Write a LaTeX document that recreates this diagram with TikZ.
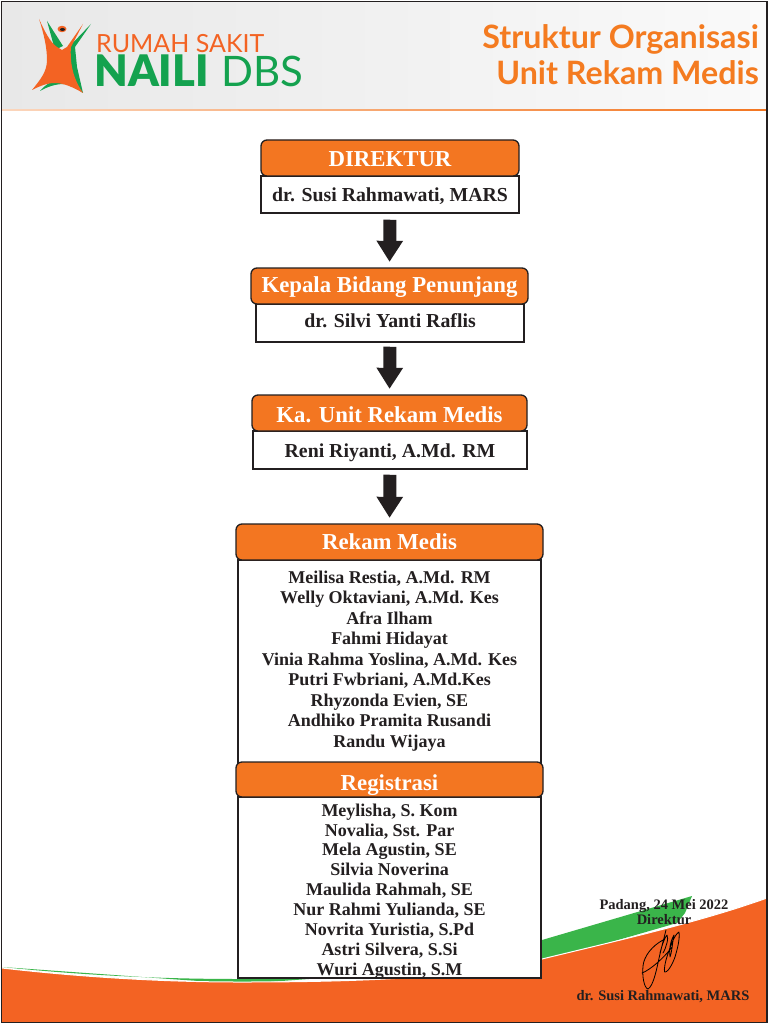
\documentclass[tikz,border=0pt]{standalone}
\usepackage{fontspec}
\setmainfont{Liberation Serif}
\newfontfamily\logofont{Lato}
\newfontfamily\logoblack{Lato Black}
\usetikzlibrary{arrows.meta,positioning}
\definecolor{hdr}{HTML}{F37621}
\definecolor{botor}{HTML}{F36323}
\definecolor{grn}{HTML}{3AB54A}
\definecolor{logogrn}{HTML}{14A24F}
\definecolor{ink}{HTML}{231F20}
\definecolor{ttl}{HTML}{F47B20}
\tikzset{
  head/.style={draw=ink,line width=1.3pt,fill=hdr,rounded corners=6pt,text=white,font=\bfseries\fontsize{22.8}{26}\selectfont,inner sep=0pt,text depth=3pt},
  namebox/.style={draw=ink,line width=1.5pt,fill=white,text=ink,font=\bfseries\fontsize{19.8}{22}\selectfont,inner sep=0pt,text depth=3pt},
  listbox/.style={draw=ink,line width=1.5pt,fill=white,inner sep=0pt},
  listtext/.style={text=ink,font=\bfseries\fontsize{18}{20.5}\selectfont,align=center,inner sep=0pt},
  signtext/.style={text=ink,font=\bfseries\fontsize{14.5}{15}\selectfont,align=center,inner sep=0pt},
  blockarrow/.style={draw=ink,line width=13pt,-{Triangle[length=21pt,width=25pt]},shorten <=#1,shorten >=5.5pt},
  logotxt/.style={font=\logofont\fontsize{25}{28}\selectfont,anchor=base west,inner sep=0pt},
  titletxt/.style={text=ttl,font=\logofont\bfseries\fontsize{32.2}{35}\selectfont,anchor=base east,inner sep=0pt}
}
\begin{document}
\begin{tikzpicture}[x=1pt,y=-1pt]
\useasboundingbox (0,0) rectangle (768,1024);
\fill[white] (0,0) rectangle (768,1024);
% header band
\shade[left color=black!9,right color=black!2] (2,2) rectangle (767,110);
\shade[left color=hdr!30,right color=hdr] (2,110) rectangle (767,111);
% bottom wave
\fill[grn] (2,967) .. controls (100,977) and (180,979) .. (240,979) .. controls (350,978) and (480,965) .. (542,940) -- (692,896) -- (685,913) -- (677,923) -- (542,962) -- (240,984) -- cycle;
\fill[botor] (2,968) .. controls (90,978) and (170,982) .. (240,982) .. controls (360,982) and (470,978) .. (542,959) .. controls (620,940) and (700,922) .. (767,898) -- (767,1022) -- (2,1022) -- cycle;
\draw[white,line width=1pt] (2,968) .. controls (90,978) and (170,982) .. (240,982) .. controls (360,982) and (470,978) .. (542,959) .. controls (620,940) and (700,922) .. (767,898);
% logo
\fill[logogrn] (47,21) -- (63,46) -- (55,50) -- cycle;
\fill[logogrn] (91,24) -- (75,47) -- (77,67) -- (83,93) -- (62,78) -- (66,50) -- cycle;
\fill[logogrn] (40,91) .. controls (46,84) and (52,81) .. (58,80) -- (64,84) .. controls (55,84) and (47,87) .. (40,91) -- cycle;
\fill[botor] (39,19) .. controls (45,32) and (50,42) .. (57,47) -- (62,50) -- (67,47) -- (83,24) -- (71,47) .. controls (70,58) and (71,76) .. (83,93) .. controls (73,87) and (63,83) .. (55,83) .. controls (47,83) and (40,86) .. (32,90) .. controls (40,80) and (47,72) .. (47,60) .. controls (47,48) and (44,34) .. (39,19) -- cycle;
\fill[botor] (62,29) ellipse (4.5 and 3.2);
\fill[ink] (62.5,29.5) ellipse (2.5 and 1.5);
\node[logotxt,text=botor] (rs) at (96,53) {RUMAH SAKIT};
\node[logotxt,text=logogrn,font=\logoblack\fontsize{43.5}{46}\selectfont] (naili) at (94,87) {NAILI};
\node[logotxt,text=logogrn,font=\logofont\fontsize{42}{44}\selectfont] (dbs) at (221,87) {DBS};
\node[titletxt] (t1) at (759,49) {Struktur Organisasi};
\node[titletxt] (t2) at (759,84.5) {Unit Rekam Medis};
% chart
\node[namebox,text height=18pt,minimum width=258pt,minimum height=37pt] (b1) at (390,194.5) {dr. Susi Rahmawati, MARS};
\node[head,text height=20pt,minimum width=258pt,minimum height=36pt] (h1) at (390,158) {DIREKTUR};
\node[namebox,text height=11pt,minimum width=268pt,minimum height=38pt] (b2) at (390,323) {dr. Silvi Yanti Raflis};
\node[head,text height=15pt,minimum width=277pt,minimum height=36pt] (h2) at (389.5,286) {Kepala Bidang Penunjang};
\node[namebox,text height=18pt,minimum width=274pt,minimum height=38pt] (b3) at (390,450) {Reni Riyanti, A.Md. RM};
\node[head,text height=22pt,minimum width=275pt,minimum height=36pt] (h3) at (389.5,413) {Ka. Unit Rekam Medis};
\node[listbox,minimum width=303pt,minimum height=203pt] (b4) at (389.5,661.5) {};
\node[head,text height=18pt,minimum width=307pt,minimum height=36pt] (h4) at (389.5,542) {Rekam Medis};
\node[listtext] (l4) at (389.5,661) {Meilisa Restia, A.Md. RM\\Welly Oktaviani, A.Md. Kes\\Afra Ilham\\Fahmi Hidayat\\Vinia Rahma Yoslina, A.Md. Kes\\Putri Fwbriani, A.Md.Kes\\Rhyzonda Evien, SE\\Andhiko Pramita Rusandi\\Randu Wijaya};
\node[listbox,minimum width=303pt,minimum height=181pt] (b5) at (389.5,887.5) {};
\node[head,text height=24pt,minimum width=307pt,minimum height=35pt] (h5) at (389.5,779.5) {Registrasi};
\node[listtext,font=\bfseries\fontsize{18}{19.9}\selectfont] (l5) at (389.5,891.5) {Meylisha, S. Kom\\Novalia, Sst. Par\\Mela Agustin, SE\\Silvia Noverina\\Maulida Rahmah, SE\\Nur Rahmi Yulianda, SE\\Novrita Yuristia, S.Pd\\Astri Silvera, S.Si\\Wuri Agustin, S.M};
\draw[blockarrow=6pt] (b1.south) -- (h2.north);
\draw[blockarrow=4pt] (b2.south) -- (h3.north);
\draw[blockarrow=5pt] (b3.south) -- (h4.north);
% signature block
\node[signtext] (s1) at (664,912) {Padang, 24 Mei 2022\\Direktur};
\node[signtext] (s2) at (663,997) {dr. Susi Rahmawati, MARS};
\draw[black,line width=.8pt,line cap=round,line join=round]
 (663,940) .. controls (652,946) and (644,956) .. (643,966) .. controls (642,976) and (644,988) .. (648,989) .. controls (653,986) and (656,972) .. (658,963) .. controls (660,953) and (664,938) .. (666,930)
 (642,973) .. controls (650,970) and (664,958) .. (672,947)
 (660,953) .. controls (662,945) and (665,937) .. (667,935) .. controls (669,938) and (666,948) .. (663,953)
 (679,932) .. controls (675,934) and (670,946) .. (666,960) .. controls (664,968) and (664,973) .. (665,972) .. controls (669,972) and (674,960) .. (675,957) .. controls (677,950) and (680,940) .. (679,932)
 (674,935) .. controls (672,945) and (672,952) .. (670,957) .. controls (669,950) and (670,942) .. (674,935);
% frame
\draw[ink,line width=1.3pt] (1.5,1.5) rectangle (767,1022.5);
\end{tikzpicture}
\end{document}
